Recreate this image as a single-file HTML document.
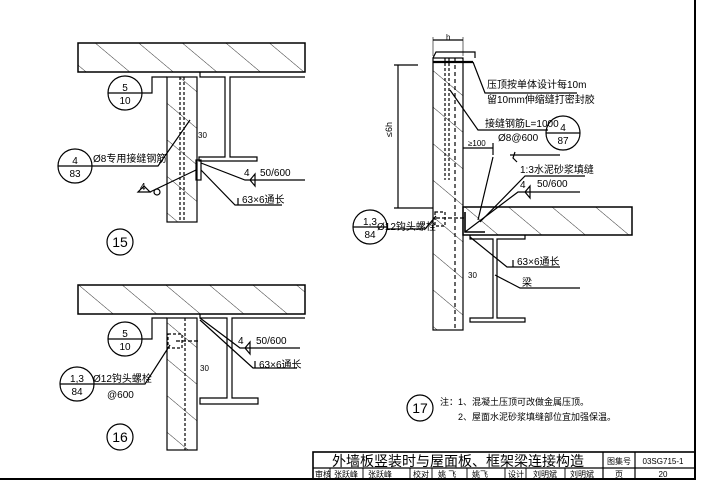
<!DOCTYPE html>
<html><head><meta charset="utf-8"><style>
body{margin:0;background:#fff}
svg{display:block}
text{font-family:"Liberation Sans","Noto Sans CJK SC",sans-serif;fill:#000}
</style></head><body>
<svg width="701" height="503" viewBox="0 0 701 503" xmlns="http://www.w3.org/2000/svg">
<defs>
<pattern id="h" width="28" height="28" patternUnits="userSpaceOnUse" patternTransform="rotate(-50)"><line x1="0" y1="0" x2="0" y2="28" stroke="#000" stroke-width="0.8"/></pattern>
</defs>
<g fill="none" stroke="#000" stroke-width="1.2">
<line x1="0" y1="479" x2="696" y2="479" stroke-width="2"/>
<line x1="695" y1="0" x2="695" y2="479" stroke-width="2"/>
<rect x="313" y="452" width="382" height="27" stroke-width="1.6"/>
<line x1="313" y1="468" x2="695" y2="468"/>
<line x1="603" y1="452" x2="603" y2="479"/>
<line x1="635" y1="452" x2="635" y2="479"/>
<g stroke-width="0.9">
<line x1="330" y1="468" x2="330" y2="479"/><line x1="363" y1="468" x2="363" y2="479"/>
<line x1="410" y1="468" x2="410" y2="479"/><line x1="432" y1="468" x2="432" y2="479"/>
<line x1="467" y1="468" x2="467" y2="479"/><line x1="505" y1="468" x2="505" y2="479"/>
<line x1="526" y1="468" x2="526" y2="479"/><line x1="565" y1="468" x2="565" y2="479"/>
</g>

<!-- ===== 15 ===== -->
<rect x="78" y="43" width="227" height="29" fill="url(#h)" stroke-width="1.5"/>
<rect x="167" y="77" width="30" height="145" fill="url(#h)"/>
<line x1="180" y1="77" x2="180" y2="222" stroke-dasharray="3,2"/><line x1="184" y1="77" x2="184" y2="222" stroke-dasharray="3,2"/>
<path d="M200 72 V77 H225 V157 H199 V161 H257 V157 H230 V77 H305"/>
<circle cx="125" cy="93" r="17"/><line x1="108" y1="93" x2="142" y2="93"/>
<path d="M142 93 H152 V77 H167"/>
<circle cx="75" cy="166" r="17"/><line x1="58" y1="166" x2="92" y2="166"/>
<path d="M92 166 H158 L190 120"/>
<path d="M138 192 H150 L144 186 Z M150 192 L196 170"/><circle cx="157" cy="192" r="3"/>
<rect x="196" y="160" width="5" height="20"/>
<path d="M201 163 L245 180 H305 M250 180 L255 174 V186 Z"/>
<path d="M201 170 L235 205 H282"/><path d="M238 198 V205"/>
<circle cx="120" cy="242" r="13"/>

<!-- ===== 16 ===== -->
<rect x="78" y="285" width="227" height="29" fill="url(#h)" stroke-width="1.5"/>
<rect x="167" y="318" width="30" height="132" fill="url(#h)"/>
<line x1="185" y1="318" x2="185" y2="450" stroke-dasharray="3,2"/>
<path d="M200 314 V318 H227 V398 H200 V404 H258 V398 H232 V318 H305"/>
<circle cx="125" cy="339" r="17"/><line x1="108" y1="339" x2="142" y2="339"/>
<path d="M142 339 H152 V318 H167"/>
<rect x="168" y="334" width="14" height="14" stroke-dasharray="3,2"/>
<line x1="176" y1="341" x2="200" y2="341" stroke-dasharray="4,2"/>
<circle cx="77" cy="384" r="17"/><line x1="60" y1="384" x2="94" y2="384"/>
<path d="M94 384 H145 L170 345"/>
<path d="M200 318 L240 348 H300 M245 348 L250 342 V354 Z"/>
<path d="M200 320 L253 368 H297"/><path d="M255 361 V368"/>
<circle cx="120" cy="437" r="13"/>

<!-- ===== 17 ===== -->
<rect x="433" y="58" width="30" height="272" fill="url(#h)"/>
<path d="M433 58 L436 52 H475 L475 58"/>
<line x1="445" y1="58" x2="445" y2="180" stroke-dasharray="3,2"/><line x1="449" y1="58" x2="449" y2="180" stroke-dasharray="3,2"/>
<line x1="455" y1="58" x2="455" y2="330" stroke-dasharray="4,3"/>
<line x1="433" y1="62" x2="473" y2="62" stroke-width="2.2"/>
<line x1="433" y1="40" x2="463" y2="40"/><line x1="433" y1="37" x2="433" y2="56" stroke-width="0.6"/><line x1="463" y1="37" x2="463" y2="56" stroke-width="0.6"/>
<line x1="398" y1="65" x2="398" y2="208"/><line x1="394" y1="65" x2="418" y2="65"/><line x1="394" y1="208" x2="433" y2="208"/>
<rect x="463" y="207" width="169" height="28" fill="url(#h)" stroke-width="1.5"/>
<path d="M470 235 V239 H493 V318 H470 V322 H525 V318 H497 V239 H525 V235"/>
<path d="M465 212 V232 H485" stroke-width="1.6"/>
<line x1="436" y1="218" x2="465" y2="218" stroke-dasharray="4,2"/>
<rect x="435" y="212" width="10" height="14" stroke-dasharray="3,2"/>
<path d="M473 62 L485 93 H577"/>
<path d="M450 90 L478 130 H548"/>
<circle cx="563" cy="133" r="17"/><line x1="546" y1="133" x2="580" y2="133"/>
<line x1="463" y1="148" x2="493" y2="148"/><line x1="493" y1="143" x2="493" y2="155"/>
<path d="M493 157 L478 220 M510 155 H560 M515 152 L513 158 L517 162"/>
<path d="M480 222 L525 176 H585"/>
<path d="M465 232 L518 192 H580 M525 192 L530 186 V198 Z"/>
<path d="M470 237 L507 267 H560"/><path d="M513 260 V267"/>
<path d="M495 275 L520 288 H580"/>
<circle cx="370" cy="227" r="17"/><line x1="353" y1="227" x2="387" y2="227"/>
<path d="M387 229 H425 L436 216"/>
<circle cx="420" cy="408" r="13"/>
</g>

<g font-size="10">
<text x="125" y="91" text-anchor="middle">5</text><text x="125" y="104" text-anchor="middle">10</text>
<text x="75" y="164" text-anchor="middle">4</text><text x="75" y="177" text-anchor="middle">83</text>
<text x="93" y="162">Ø8专用接缝钢筋</text>
<text x="140" y="190">4</text>
<text x="244" y="176">4</text><text x="260" y="176">50/600</text>
<text x="242" y="203">63×6通长</text>
<text x="198" y="138" font-size="8">30</text>
<text x="120" y="247" text-anchor="middle" font-size="14">15</text>

<text x="125" y="337" text-anchor="middle">5</text><text x="125" y="350" text-anchor="middle">10</text>
<text x="77" y="382" text-anchor="middle">1,3</text><text x="77" y="395" text-anchor="middle">84</text>
<text x="93" y="382">Ø12钩头螺栓</text><text x="107" y="398">@600</text>
<text x="238" y="344">4</text><text x="256" y="344">50/600</text>
<text x="259" y="368">63×6通长</text>
<text x="200" y="371" font-size="8">30</text>
<text x="120" y="442" text-anchor="middle" font-size="14">16</text>

<text x="446" y="40" font-size="8">h</text>
<text x="392" y="137" font-size="9" transform="rotate(-90 392 137)">≤6h</text>
<text x="487" y="88">压顶按单体设计每10m</text>
<text x="487" y="103">留10mm伸缩缝打密封胶</text>
<text x="485" y="127">接缝钢筋L=1000</text>
<text x="498" y="141">Ø8@600</text>
<text x="563" y="131" text-anchor="middle">4</text><text x="563" y="144" text-anchor="middle">87</text>
<text x="468" y="146" font-size="8">≥100</text>
<text x="520" y="173">1:3水泥砂浆填缝</text>
<text x="520" y="188">4</text><text x="537" y="187">50/600</text>
<text x="517" y="265">63×6通长</text>
<text x="522" y="286">梁</text>
<text x="468" y="278" font-size="8">30</text>
<text x="370" y="225" text-anchor="middle">1,3</text><text x="370" y="238" text-anchor="middle">84</text>
<text x="377" y="230">Ø12钩头螺栓</text>
<text x="420" y="413" text-anchor="middle" font-size="14">17</text>
<text x="440" y="405" font-size="9">注：1、混凝土压顶可改做金属压顶。</text>
<text x="458" y="420" font-size="9">2、屋面水泥砂浆填缝部位宜加强保温。</text>

<text x="458" y="466" text-anchor="middle" font-size="14">外墙板竖装时与屋面板、框架梁连接构造</text>
<text x="619" y="464" text-anchor="middle" font-size="8">图集号</text>
<text x="663" y="464" text-anchor="middle" font-size="8">03SG715-1</text>
<g font-size="8">
<text x="315" y="477">审核</text><text x="334" y="477">张跃峰</text><text x="368" y="477">张跃峰</text>
<text x="413" y="477">校对</text><text x="438" y="477">姚 飞</text><text x="472" y="477">姚飞</text>
<text x="508" y="477">设计</text><text x="533" y="477">刘明斌</text><text x="570" y="477">刘明斌</text>
<text x="619" y="477" text-anchor="middle">页</text><text x="663" y="477" text-anchor="middle">20</text>
</g>
</g>
</svg>
</body></html>
